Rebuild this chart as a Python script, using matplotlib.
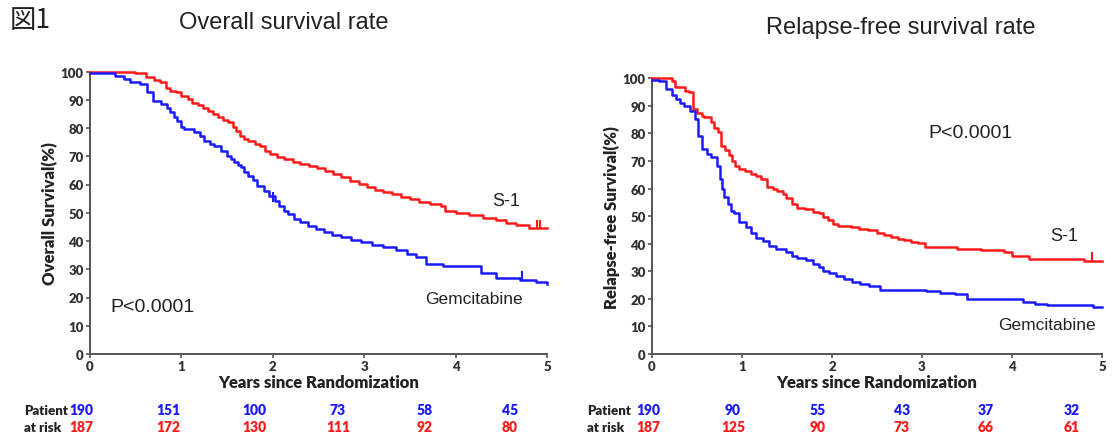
import matplotlib
matplotlib.use('agg')
import matplotlib.pyplot as plt

# --- Overall survival (step curves) ---
os_s1_t = [0, 0.49, 0.61, 0.70, 0.77, 0.83, 0.88, 0.94, 1.00, 1.07, 1.12, 1.18, 1.24, 1.29,
           1.35, 1.40, 1.46, 1.51, 1.56, 1.60, 1.64, 1.69, 1.73, 1.80, 1.86, 1.91, 1.97, 2.05,
           2.12, 2.22, 2.30, 2.40, 2.48, 2.57, 2.66, 2.75, 2.85, 2.94, 3.03, 3.12, 3.21, 3.30,
           3.40, 3.50, 3.60, 3.72, 3.84, 3.88, 4.00, 4.15, 4.30, 4.44, 4.55, 4.66, 4.80, 5.00]
os_s1_s = [100, 99.5, 98, 97, 96.2, 94, 93, 92.6, 91.5, 90.3, 89, 88, 87, 86,
           85, 84, 83, 82, 80.5, 79, 77.3, 76, 75.5, 74.5, 73.5, 72, 70.8, 69.8,
           69, 68, 67.3, 66.5, 65.8, 64.8, 63.7, 62.5, 61.3, 60.2, 59, 58.2, 57.3, 56.5,
           55.5, 54.8, 53.8, 53, 52.3, 50.5, 49.8, 49.1, 48, 47.3, 46.5, 45.5, 44.6, 44.6]

os_gem_t = [0, 0.27, 0.37, 0.44, 0.55, 0.62, 0.69, 0.78, 0.84, 0.88, 0.92, 0.95, 1.00, 1.03,
            1.14, 1.20, 1.25, 1.31, 1.36, 1.43, 1.50, 1.54, 1.58, 1.62, 1.65, 1.69, 1.73, 1.78,
            1.83, 1.90, 1.96, 2.02, 2.07, 2.12, 2.17, 2.23, 2.30, 2.38, 2.47, 2.56, 2.65, 2.75,
            2.86, 2.97, 3.09, 3.21, 3.35, 3.47, 3.57, 3.68, 3.86, 4.28, 4.44, 4.70, 4.88, 5.00]
os_gem_s = [99.3, 98.5, 97.5, 96.2, 95.7, 92.6, 89.7, 88.5, 87, 85.5, 84, 82.6, 80.5, 79.6,
            78.5, 77, 75.5, 74.5, 73.7, 72, 70.2, 69, 67.8, 67, 66.1, 64.5, 63.1, 61.5,
            59.5, 57.8, 56, 54.3, 52.5, 50.7, 49.5, 47.8, 46.7, 45.4, 44.3, 43.3, 42.2, 41.3,
            40.2, 39.5, 38.6, 37.8, 36.7, 35.5, 34.3, 32.0, 31.1, 28.5, 27.0, 26.3, 25.5, 24.9]

# --- Relapse-free survival ---
rfs_s1_t = [0, 0.22, 0.26, 0.37, 0.41, 0.46, 0.50, 0.55, 0.58, 0.65, 0.69, 0.73, 0.77, 0.81,
            0.85, 0.89, 0.92, 0.97, 1.03, 1.10, 1.16, 1.21, 1.28, 1.34, 1.39, 1.45, 1.49, 1.56,
            1.61, 1.70, 1.79, 1.85, 1.90, 1.96, 2.01, 2.07, 2.21, 2.30, 2.40, 2.50, 2.58, 2.66,
            2.73, 2.80, 2.88, 2.95, 3.03, 3.39, 3.65, 3.91, 4.00, 4.19, 4.80, 5.00]
rfs_s1_s = [100, 99, 97, 95.5, 95, 88.9, 87.4, 86.5, 86, 84, 82, 80.5, 75.6, 74,
            72, 70, 68.3, 67.1, 66.5, 65.3, 64.4, 63.5, 60.6, 60, 59, 58, 56.5, 54.5,
            52.9, 52.5, 51.5, 51, 49.7, 48.5, 47.2, 46.6, 46, 45.5, 44.8, 44, 43.2, 42.5,
            41.8, 41.2, 40.8, 40.3, 38.8, 38.2, 37.6, 37.0, 35.7, 34.5, 33.9, 33.9]

rfs_gem_t = [0, 0.08, 0.16, 0.22, 0.27, 0.31, 0.35, 0.42, 0.48, 0.51, 0.55, 0.61, 0.66, 0.72,
             0.75, 0.78, 0.80, 0.84, 0.88, 0.91, 0.97, 1.04, 1.10, 1.16, 1.23, 1.30, 1.38, 1.49,
             1.56, 1.61, 1.71, 1.79, 1.85, 1.90, 1.97, 2.04, 2.13, 2.22, 2.31, 2.41, 2.53, 3.04,
             3.20, 3.37, 3.50, 4.05, 4.12, 4.25, 4.39, 4.90, 5.00]
rfs_gem_s = [99.5, 99, 96, 94, 92.5, 91, 90, 88.3, 85.2, 79.2, 74.4, 72.5, 71.4, 68.3,
             63.5, 60, 57, 54.5, 52, 51, 48, 46, 44, 42, 41, 39, 38.1, 37,
             35.5, 34.8, 34, 32.6, 31.5, 30.2, 29.2, 28.4, 27.2, 26.1, 25.3, 24.7, 23.3, 22.8,
             22.3, 21.9, 20.0, 19.8, 18.8, 18.2, 17.6, 17.0, 17.0]

# censor ticks (time, value)
os_s1_cens = [(4.89, 44.6), (4.92, 44.6)]
os_gem_cens = [(2.00, 54.3), (4.73, 26.3)]
rfs_s1_cens = [(4.89, 33.9)]
rfs_gem_cens = []

# numbers at risk, years 0..5
os_risk_gem = [190, 151, 100, 73, 58, 45]
os_risk_s1 = [187, 172, 130, 111, 92, 80]
rfs_risk_gem = [190, 90, 55, 43, 37, 32]
rfs_risk_s1 = [187, 125, 90, 73, 66, 61]

RED = '#ff1a1a'
BLUE = '#1a1aff'
W, H = 1114, 439
BOLD = 'Lato'
ARIAL = 'Liberation Sans'

fig = plt.figure(figsize=(W / 100, H / 100), dpi=100)


def px(x, y):
    return x / W, 1 - y / H


def panel(rect, s1_t, s1_s, gem_t, gem_s, s1_c, gem_c, ylabel):
    ax = fig.add_axes(rect)
    ax.step(s1_t, s1_s, where='post', color=RED, lw=1.8, clip_on=False, zorder=3)
    ax.step(gem_t, gem_s, where='post', color=BLUE, lw=1.8, clip_on=False, zorder=3)
    for t, v in s1_c:
        ax.plot([t, t], [v, v + 2.6], color=RED, lw=1.5, clip_on=False)
    for t, v in gem_c:
        ax.plot([t, t], [v, v + 2.6], color=BLUE, lw=1.5, clip_on=False)
    ax.set_xlim(0, 5)
    ax.set_ylim(0, 100)
    ax.set_xticks(range(6))
    ax.set_yticks(range(0, 101, 10))
    for s in ['top', 'right']:
        ax.spines[s].set_visible(False)
    for s in ['left', 'bottom']:
        ax.spines[s].set_color('#555555')
        ax.spines[s].set_linewidth(1.4)
    ax.tick_params(length=3, width=1.2, color='#555555', pad=1.5)
    for lab in ax.get_xticklabels() + ax.get_yticklabels():
        lab.set_fontfamily(BOLD)
        lab.set_fontweight('heavy')
        lab.set_fontsize(9.5)
        lab.set_color('#333333')
    ax.set_xlabel('Years since Randomization', fontfamily=BOLD, fontweight='heavy',
                  fontsize=12, color='#222222', labelpad=1)
    ax.set_ylabel(ylabel, fontfamily=BOLD, fontweight='heavy', fontsize=12,
                  color='#222222', labelpad=2)
    return ax


ax1 = panel([90 / W, 1 - 355 / H, 457 / W, 282.5 / H], os_s1_t, os_s1_s, os_gem_t, os_gem_s,
            os_s1_cens, os_gem_cens, 'Overall Survival(%)')
ax2 = panel([652 / W, 1 - 355 / H, 450 / W, 275.7 / H], rfs_s1_t, rfs_s1_s, rfs_gem_t, rfs_gem_s,
            rfs_s1_cens, rfs_gem_cens, 'Relapse-free Survival(%)')

# annotations (figure pixel positions)
fig.text(*px(110, 308), 'P<0.0001', fontfamily=ARIAL, fontsize=14, va='center', ha='left', color='#222222')
fig.text(*px(492, 202), 'S-1', fontfamily=ARIAL, fontsize=13, va='center', ha='left', color='#222222')
fig.text(*px(425, 300), 'Gemcitabine', fontfamily=ARIAL, fontsize=12.5, va='center', ha='left', color='#222222')
fig.text(*px(928, 133), 'P<0.0001', fontfamily=ARIAL, fontsize=14, va='center', ha='left', color='#222222')
fig.text(*px(1050, 237), 'S-1', fontfamily=ARIAL, fontsize=13, va='center', ha='left', color='#222222')
fig.text(*px(998, 325), 'Gemcitabine', fontfamily=ARIAL, fontsize=12.5, va='center', ha='left', color='#222222')

# titles
fig.text(*px(10, 21), '図1', fontfamily=['Noto Sans CJK JP', 'DejaVu Sans'], fontsize=19,
         va='center', ha='left', color='#222222')
fig.text(*px(284, 23), 'Overall survival rate', fontfamily=ARIAL, fontsize=17,
         va='center', ha='center', color='#222222')
fig.text(*px(901, 28), 'Relapse-free survival rate', fontfamily=ARIAL, fontsize=17,
         va='center', ha='center', color='#222222')

# numbers at risk
left_cols = [81, 168, 254, 338, 425, 510]
right_cols = [648, 733, 818, 902, 986, 1072]
for x0, cols, gem, s1 in [(24, left_cols, os_risk_gem, os_risk_s1),
                          (587, right_cols, rfs_risk_gem, rfs_risk_s1)]:
    fig.text(*px(x0, 411), 'Patient', fontfamily=BOLD, fontweight='heavy', fontsize=9.5,
             va='center', ha='left', color='#222222')
    fig.text(*px(x0, 428), 'at risk', fontfamily=BOLD, fontweight='heavy', fontsize=9.5,
             va='center', ha='left', color='#222222')
    for c, g, s in zip(cols, gem, s1):
        fig.text(*px(c, 411), str(g), fontfamily=BOLD, fontweight='heavy', fontsize=10,
                 va='center', ha='center', color=BLUE)
        fig.text(*px(c, 428), str(s), fontfamily=BOLD, fontweight='heavy', fontsize=10,
                 va='center', ha='center', color=RED)

fig.savefig('out.png', dpi=100)
